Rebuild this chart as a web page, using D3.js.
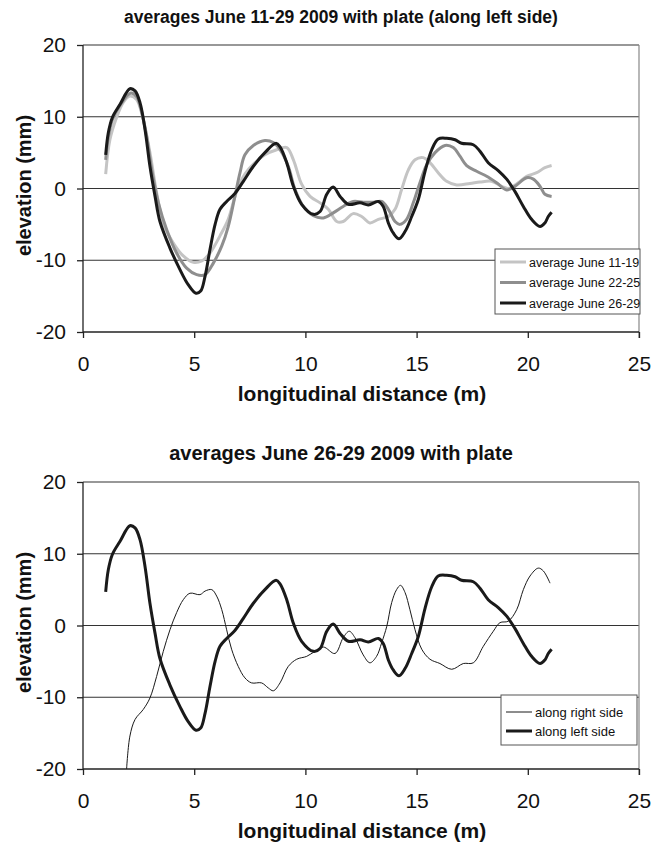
<!DOCTYPE html>
<html>
<head>
<meta charset="utf-8">
<script src="https://cdn.jsdelivr.net/npm/d3@7"></script>
<style>
  body { margin: 0; background: #fff; }
  svg text { font-family: "Liberation Sans", Arial, sans-serif; fill: #111; }
</style>
</head>
<body>
<div id="chart"></div>
<script>
// series: [distance (m), elevation (mm)]
const june11to19 = [
  [1.02, 2.0], [1.21, 6.8], [1.51, 9.9], [1.81, 12.0], [2.11, 12.9], [2.41, 12.4], [2.71, 9.6],
  [3.01, 5.0], [3.31, -0.6], [3.61, -4.8], [4.06, -7.6], [4.51, -9.4], [4.96, -10.3], [5.34, -10.1],
  [5.71, -9.0], [6.16, -6.6], [6.53, -4.3], [6.91, -0.4], [7.28, 2.0], [7.73, 3.6], [8.18, 4.7],
  [8.71, 5.4], [9.16, 5.7], [9.46, 4.0], [9.83, 0.6], [10.21, -1.1], [10.66, -2.0], [11.03, -2.9],
  [11.41, -4.6], [11.7, -4.6], [12.15, -3.5], [12.53, -3.9], [12.9, -4.8], [13.28, -4.3],
  [13.73, -3.9], [14.03, -2.9], [14.33, -0.1], [14.63, 2.6], [14.93, 4.0], [15.3, 4.3], [15.6, 3.6],
  [15.97, 2.2], [16.35, 1.0], [16.8, 0.5], [17.4, 0.7], [17.85, 0.9], [18.37, 1.0], [18.83, 0.3],
  [19.12, 0.0], [19.57, 0.8], [19.95, 1.7], [20.4, 2.2], [20.77, 2.9], [21.07, 3.2]
];
const june22to25 = [
  [1.02, 4.0], [1.14, 7.2], [1.32, 9.6], [1.66, 11.6], [2.15, 13.3], [2.41, 12.8], [2.56, 11.6],
  [2.86, 7.3], [3.09, 2.6], [3.39, -2.0], [3.76, -5.7], [4.21, -9.0], [4.66, -11.1], [5.11, -12.0],
  [5.49, -12.0], [5.86, -10.4], [6.24, -8.0], [6.53, -5.3], [6.83, -1.1], [7.06, 2.2], [7.28, 4.7],
  [7.66, 6.0], [8.18, 6.7], [8.56, 6.4], [8.86, 5.4], [9.23, 3.1], [9.53, -0.1], [9.91, -2.5],
  [10.36, -3.8], [10.81, -4.1], [11.25, -3.4], [11.7, -2.5], [12.15, -1.8], [12.6, -1.9],
  [13.06, -1.9], [13.43, -1.8], [13.73, -2.9], [14.03, -4.6], [14.25, -5.0], [14.55, -4.3],
  [14.85, -2.0], [15.15, 0.8], [15.45, 3.3], [15.83, 5.0], [16.28, 6.0], [16.65, 5.7], [16.95, 4.5],
  [17.25, 3.2], [17.7, 2.4], [18.15, 1.7], [18.6, 0.8], [19.05, -0.2], [19.42, 0.3], [19.95, 1.5],
  [20.25, 1.3], [20.55, 0.3], [20.77, -0.8], [21.07, -1.1]
];
const june26to29 = [
  [1.02, 4.7], [1.14, 7.8], [1.32, 9.9], [1.66, 11.7], [2.11, 13.9], [2.34, 13.6], [2.56, 12.0],
  [2.79, 8.2], [3.01, 3.1], [3.24, -1.1], [3.46, -4.6], [3.91, -8.3], [4.36, -11.3], [4.73, -13.4],
  [5.08, -14.6], [5.29, -14.3], [5.49, -12.2], [5.71, -8.5], [5.94, -5.0], [6.16, -2.9], [6.46, -1.8],
  [6.83, -0.7], [7.21, 1.0], [7.66, 3.1], [8.18, 5.0], [8.68, 6.3], [8.86, 5.8], [9.16, 3.6],
  [9.46, 0.3], [9.83, -2.2], [10.36, -3.6], [10.66, -3.2], [10.96, -0.8], [11.25, 0.2], [11.56, -1.1],
  [11.93, -2.2], [12.46, -2.0], [12.83, -2.3], [13.28, -1.8], [13.5, -2.5], [13.73, -4.8],
  [13.95, -6.2], [14.21, -7.0], [14.48, -6.0], [14.78, -3.9], [15.08, -1.5], [15.38, 2.4],
  [15.68, 5.4], [15.97, 6.9], [16.35, 7.0], [16.73, 6.8], [17.02, 6.3], [17.55, 6.1], [17.85, 5.2],
  [18.22, 3.6], [18.67, 2.5], [19.05, 1.3], [19.42, -0.4], [19.8, -2.5], [20.17, -4.3], [20.55, -5.3],
  [20.77, -4.8], [20.92, -3.9], [21.07, -3.3]
];
const alongRight = [
  [1.96, -20.0], [2.11, -15.4], [2.34, -13.1], [2.71, -11.7], [3.01, -10.1], [3.31, -7.1],
  [3.61, -3.6], [3.91, -0.6], [4.21, 1.8], [4.51, 3.6], [4.81, 4.5], [5.26, 4.3], [5.49, 4.8],
  [5.79, 5.0], [6.01, 4.1], [6.24, 2.2], [6.46, -0.6], [6.68, -3.3], [6.98, -5.7], [7.28, -7.3],
  [7.58, -8.0], [8.03, -8.0], [8.33, -8.7], [8.56, -9.1], [8.86, -8.0], [9.23, -5.7], [9.61, -4.7],
  [10.06, -4.3], [10.43, -3.6], [10.81, -3.0], [11.33, -3.9], [11.7, -1.7], [11.97, -0.8],
  [12.23, -1.7], [12.6, -4.1], [12.9, -5.2], [13.2, -4.3], [13.43, -2.4], [13.66, -0.1], [13.88, 3.2],
  [14.1, 5.0], [14.28, 5.6], [14.48, 4.6], [14.7, 2.2], [14.93, -0.6], [15.23, -3.3], [15.6, -4.7],
  [16.05, -5.3], [16.58, -6.1], [17.1, -5.3], [17.55, -5.2], [18.0, -2.9], [18.45, -0.8],
  [18.75, 0.4], [19.12, 0.6], [19.5, 2.2], [19.8, 5.0], [20.1, 6.9], [20.47, 8.0], [20.7, 7.6],
  [21.0, 5.9]
];

const xTicks = [0, 5, 10, 15, 20, 25];
const yTicks = [-20, -10, 0, 10, 20];

const svg = d3.select("#chart").append("svg")
  .attr("width", 661)
  .attr("height", 849);

function drawPanel(opts) {
  const x = d3.scaleLinear().domain([0, 25]).range([83, 639]);
  const y = d3.scaleLinear().domain([-20, 20]).range([opts.bottom, opts.top]);
  const g = svg.append("g");

  // title
  g.append("text")
    .attr("x", 341).attr("y", opts.top - 22)
    .attr("text-anchor", "middle")
    .attr("font-size", opts.titleSize).attr("font-weight", "bold")
    .text(opts.title);

  // grid lines
  g.selectAll(".grid").data(yTicks.filter(d => d > -20))
    .join("line")
    .attr("x1", x(0)).attr("x2", x(25))
    .attr("y1", d => y(d)).attr("y2", d => y(d))
    .attr("stroke", "#333")
    .attr("stroke-width", 1.2);

  // right border
  g.append("line")
    .attr("x1", x(25)).attr("x2", x(25))
    .attr("y1", y(20)).attr("y2", y(-20) + 6)
    .attr("stroke", "#888").attr("stroke-width", 1.2);

  // plain hyphen for negatives, like the original
  const fmt = d => String(d);
  const xAxis = g.append("g")
    .attr("transform", `translate(0,${y(-20)})`)
    .call(d3.axisBottom(x).tickValues(xTicks).tickFormat(fmt).tickSize(6).tickPadding(18));
  const yAxis = g.append("g")
    .attr("transform", `translate(${x(0)},0)`)
    .call(d3.axisLeft(y).tickValues(yTicks).tickFormat(fmt).tickSize(6).tickPadding(11));
  [xAxis, yAxis].forEach(a => {
    a.selectAll("path, line").attr("stroke", "#222").attr("stroke-width", 1.3);
    a.select(".domain").attr("d", a === xAxis ? `M${x(0)},0H${x(25)}` : `M0,${y(20)}V${y(-20)}`);
    a.selectAll("text").attr("font-size", 21).attr("fill", "#111")
      .attr("font-family", "Liberation Sans, Arial, sans-serif");
  });

  g.append("text")
    .attr("x", 362).attr("y", opts.bottom + 69)
    .attr("text-anchor", "middle")
    .attr("font-size", 21).attr("font-weight", "bold")
    .text("longitudinal distance (m)");
  g.append("text")
    .attr("transform", `translate(31,${(opts.top + opts.bottom) / 2 - 3}) rotate(-90)`)
    .attr("text-anchor", "middle")
    .attr("font-size", 20).attr("font-weight", "bold")
    .text("elevation (mm)");

  const line = d3.line()
    .x(d => x(d[0])).y(d => y(d[1]))
    .curve(d3.curveCatmullRom.alpha(0.5));

  g.selectAll(".series").data(opts.series)
    .join("path")
    .attr("d", s => line(s.values))
    .attr("fill", "none")
    .attr("stroke", s => s.color)
    .attr("stroke-width", s => s.width)
    .attr("stroke-linejoin", "round");

  // legend
  const lg = g.append("g");
  lg.append("rect")
    .attr("x", opts.legend.x).attr("y", opts.legend.y)
    .attr("width", opts.legend.w).attr("height", opts.legend.h)
    .attr("fill", "#fff").attr("stroke", "#555").attr("stroke-width", 1);
  opts.series.forEach((s, i) => {
    const ly = opts.legend.y + opts.legend.first + i * opts.legend.step;
    lg.append("line")
      .attr("x1", opts.legend.x + 5).attr("x2", opts.legend.x + 31)
      .attr("y1", ly).attr("y2", ly)
      .attr("stroke", s.color).attr("stroke-width", s.width);
    lg.append("text")
      .attr("x", opts.legend.x + 34).attr("y", ly + 4.5)
      .attr("font-size", opts.legend.font)
      .text(s.name);
  });
}

drawPanel({
  title: "averages June 11-29 2009 with plate (along left side)",
  titleSize: 17.5,
  top: 45, bottom: 332,
  series: [
    { name: "average June 11-19", values: june11to19, color: "#c4c4c4", width: 3 },
    { name: "average June 22-25", values: june22to25, color: "#8e8e8e", width: 3 },
    { name: "average June 26-29", values: june26to29, color: "#1a1a1a", width: 3 }
  ],
  legend: { x: 495, y: 249, w: 145, h: 65, first: 13, step: 20.5, font: 12.5 }
});

drawPanel({
  title: "averages June 26-29 2009 with plate",
  titleSize: 20,
  top: 482, bottom: 769,
  series: [
    { name: "along right side", values: alongRight, color: "#1a1a1a", width: 1 },
    { name: "along left side", values: june26to29, color: "#1a1a1a", width: 3 }
  ],
  legend: { x: 501, y: 695, w: 136, h: 50, first: 17, step: 19, font: 13 }
});
</script>
</body>
</html>
